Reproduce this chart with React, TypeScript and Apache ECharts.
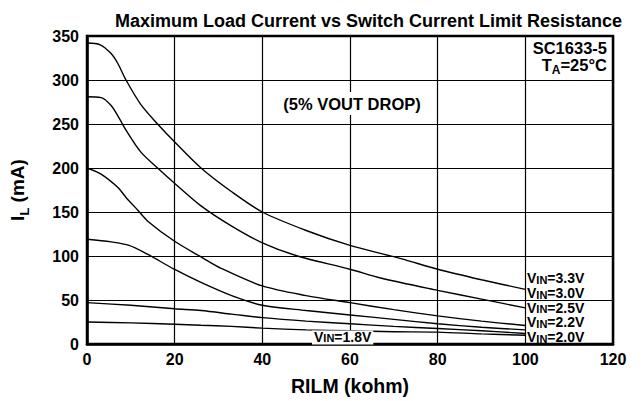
import React, { useEffect, useRef } from "react";
import * as echarts from "echarts";

const xTicks = [0, 20, 40, 60, 80, 100, 120];
const yTicks = [0, 50, 100, 150, 200, 250, 300, 350];

const x33 = [0, 3, 5.5, 7, 8.9, 12.3, 16.1, 19.9, 26, 33, 40, 50, 60, 71.6, 80, 90, 100];
const y33 = [342, 340, 330, 319, 300, 272, 250, 230, 200, 173, 150, 129, 112, 97, 85, 73, 62];

const x30 = [0, 3.2, 5.5, 7.3, 8.9, 12.3, 16.1, 19.9, 26, 33, 40, 48, 60, 67, 80, 90, 100];
const y30 = [281, 280, 271, 257, 243, 218, 200, 183, 157, 134, 115, 100, 85, 75, 61, 51, 41];

const x25 = [0, 3.2, 7, 9, 11.6, 14, 19.9, 26, 30.6, 40, 50, 60, 70, 80, 90, 100];
const y25 = [200, 193, 178, 166, 152, 139, 117, 99, 86, 66, 55, 47, 39, 32, 26, 21];

const x22 = [0, 5.5, 9.6, 13.8, 19.9, 26, 33, 40, 50, 60, 70, 80, 90, 100];
const y22 = [119, 116, 112, 102, 85, 70, 55, 44, 38, 33, 28, 23, 19, 16];

const x20 = [0, 10, 20, 26, 33, 40, 50, 60, 70, 80, 90, 100];
const y20 = [47, 44, 40, 38, 34, 30, 26, 23, 20, 17.6, 15, 12];

const x18 = [0, 10, 20, 26, 33, 40, 50, 60, 70, 80, 90, 100];
const y18 = [25, 24, 22.5, 21.3, 20, 18, 16, 15, 14, 13.5, 11.5, 10];

const seriesNames = ["VIN=3.3V", "VIN=3.0V", "VIN=2.5V", "VIN=2.2V", "VIN=2.0V", "VIN=1.8V"];
const seriesX = [x33, x30, x25, x22, x20, x18];
const seriesY = [y33, y30, y25, y22, y20, y18];
const endLabels = ["3.3V", "3.0V", "2.5V", "2.2V", "2.0V"];
const endLabelY = [279, 294, 308.5, 323, 338];

const FONT = "Liberation Sans, Arial, sans-serif";

function vinRich(v: string) {
  return `{v|V}{s|IN}{n|=${v}}`;
}
const vinRichStyles = {
  v: { fontSize: 14, fontWeight: "bold", fontFamily: FONT, verticalAlign: "bottom", fill: "#000", lineHeight: 12 },
  s: { fontSize: 11, fontWeight: "bold", fontFamily: FONT, verticalAlign: "bottom", fill: "#000", lineHeight: 10 },
  n: { fontSize: 14, fontWeight: "bold", fontFamily: FONT, verticalAlign: "bottom", fill: "#000", lineHeight: 12 },
};

export default function App() {
  const ref = useRef<HTMLDivElement>(null);
  useEffect(() => {
    if (!ref.current) return;
    const chart = echarts.init(ref.current, undefined, { renderer: "svg" });
    const graphics: any[] = [];
    endLabels.forEach((v, i) => {
      graphics.push({
        type: "text",
        x: 527,
        y: endLabelY[i],
        z: 100,
        style: {
          text: vinRich(v),
          rich: vinRichStyles,
          verticalAlign: "middle",
          align: "left",
        },
      });
    });
    graphics.push({
      type: "text",
      x: 312,
      y: 337.5,
      z: 100,
      style: {
        text: vinRich("1.8V"),
        rich: vinRichStyles,
        verticalAlign: "middle",
        align: "left",
        backgroundColor: "#fff",
        padding: [1, 2, 1, 2],
      },
    });
    graphics.push({
      type: "text",
      x: 352,
      y: 103.5,
      z: 100,
      style: {
        text: "(5% VOUT DROP)",
        fontSize: 16.5,
        fontWeight: "bold",
        fontFamily: FONT,
        fill: "#000",
        align: "center",
        verticalAlign: "middle",
        backgroundColor: "#fff",
        padding: [3, 2, 3, 2],
      },
    });
    graphics.push({
      type: "text",
      x: 607,
      y: 48,
      z: 100,
      style: {
        text: "SC1633-5",
        fontSize: 16.5,
        fontWeight: "bold",
        fontFamily: FONT,
        fill: "#000",
        align: "right",
        verticalAlign: "middle",
      },
    });
    graphics.push({
      type: "text",
      x: 607,
      y: 66,
      z: 100,
      style: {
        text: "{a|T}{s|A}{a|=25°C}",
        rich: {
          a: { fontSize: 16.5, fontWeight: "bold", fontFamily: FONT, fill: "#000", verticalAlign: "bottom", padding: [0, 0, 3, 0] },
          s: { fontSize: 12, fontWeight: "bold", fontFamily: FONT, fill: "#000", verticalAlign: "bottom" },
        },
        align: "right",
        verticalAlign: "middle",
      },
    });

    chart.setOption({
      animation: false,
      backgroundColor: "#fff",
      title: {
        text: "Maximum Load Current vs Switch Current Limit Resistance",
        left: 110,
        top: 7,
        textStyle: { fontSize: 18, fontWeight: "bold", fontFamily: FONT, color: "#000" },
      },
      grid: {
        left: 86,
        right: 31,
        top: 36,
        bottom: 55,
        show: true,
        borderColor: "#000",
        borderWidth: 2.5,
        backgroundColor: "#fff",
      },
      xAxis: {
        type: "value",
        min: 0,
        max: 120,
        interval: 20,
        name: "RILM (kohm)",
        nameLocation: "middle",
        nameGap: 32,
        nameTextStyle: { fontSize: 19.5, fontWeight: "bold", fontFamily: FONT, color: "#000" },
        axisLine: { show: true, lineStyle: { color: "#000", width: 2.5 } },
        axisTick: { show: false },
        axisLabel: {
          color: "#000",
          fontSize: 16,
          fontWeight: "bold",
          fontFamily: FONT,
          margin: 7,
          formatter: (v: number) => (xTicks.includes(v) ? String(v) : ""),
        },
        splitLine: { show: true, lineStyle: { color: "#000", width: 1.2 } },
      },
      yAxis: {
        type: "value",
        min: 0,
        max: 350,
        interval: 50,
        name: "{a|I}{b|L}{a| (mA)}",
        nameLocation: "middle",
        nameGap: 56,
        nameRotate: 90,
        nameTextStyle: {
          rich: {
            a: { fontSize: 19, fontWeight: "bold", fontFamily: FONT, color: "#000", verticalAlign: "bottom", padding: [0, 0, 4, 0] },
            b: { fontSize: 13, fontWeight: "bold", fontFamily: FONT, color: "#000", verticalAlign: "bottom" },
          },
        },
        axisLine: { show: true, lineStyle: { color: "#000", width: 2.5 } },
        axisTick: { show: false },
        axisLabel: {
          color: "#000",
          fontSize: 16,
          fontWeight: "bold",
          fontFamily: FONT,
          margin: 8,
          formatter: (v: number) => (yTicks.includes(v) ? String(v) : ""),
        },
        splitLine: { show: true, lineStyle: { color: "#000", width: 1.2 } },
      },
      series: seriesNames.map((name, i) => ({
        name,
        type: "line",
        smooth: 0.3,
        symbol: "none",
        lineStyle: { color: "#000", width: 1.4 },
        data: seriesX[i].map((x, j) => [x, seriesY[i][j]]),
        z: 5,
      })),
      graphic: graphics,
    });
    return () => chart.dispose();
  }, []);
  return <div ref={ref} style={{ width: 644, height: 401, position: "absolute", left: 0, top: 0 }} />;
}
